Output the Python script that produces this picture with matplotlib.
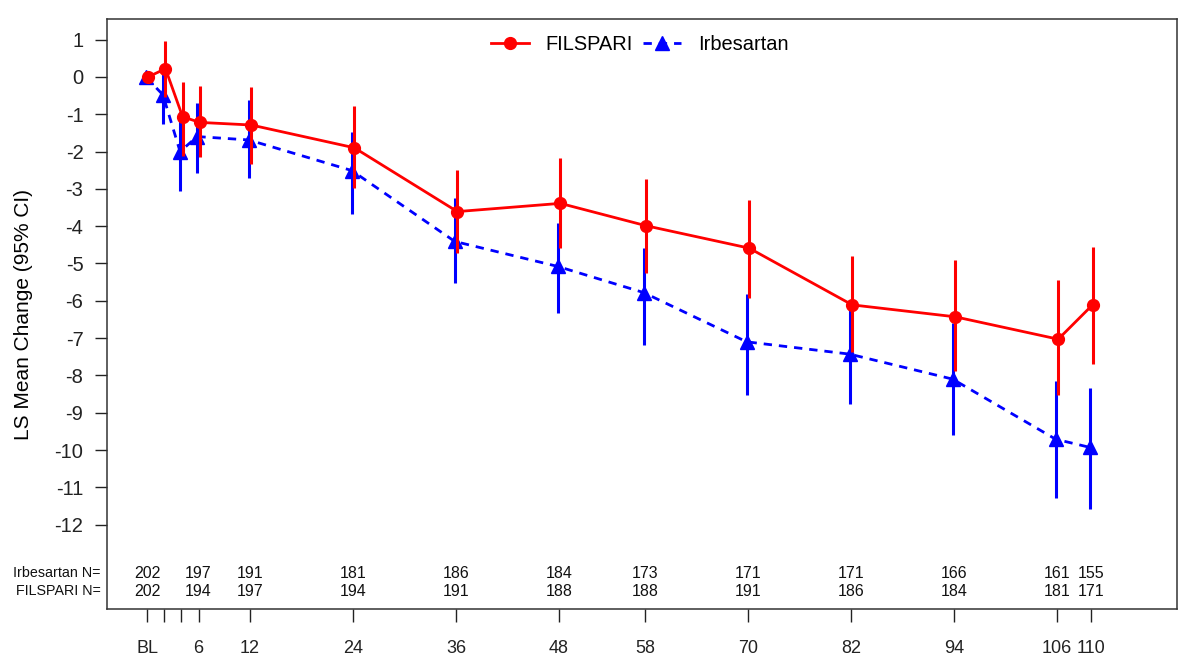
import matplotlib
matplotlib.use("Agg")
import matplotlib.pyplot as plt
import matplotlib.transforms as mtransforms
import numpy as np

plt.rcParams["font.family"] = ["Liberation Sans", "DejaVu Sans"]

# week of visit (BL = 0)
weeks = np.array([0, 2, 4, 6, 12, 24, 36, 48, 58, 70, 82, 94, 106, 110])
tick_labels = ["BL", "", "", "6", "12", "24", "36", "48", "58", "70", "82", "94", "106", "110"]

# LS mean change and 95% CI
fil_mean = [0.0, 0.22, -1.07, -1.22, -1.29, -1.90, -3.61, -3.39, -3.99, -4.59, -6.11, -6.43, -7.03, -6.11]
fil_lo = [np.nan, -0.53, -2.12, -2.15, -2.34, -2.99, -4.73, -4.59, -5.26, -5.93, -7.36, -7.87, -8.53, -7.69]
fil_hi = [np.nan, 0.97, -0.15, -0.24, -0.27, -0.78, -2.49, -2.18, -2.73, -3.30, -4.80, -4.92, -5.44, -4.55]

irb_mean = [0.0, -0.48, -2.00, -1.60, -1.69, -2.51, -4.41, -5.08, -5.78, -7.10, -7.43, -8.10, -9.71, -9.93]
irb_lo = [np.nan, -1.26, -3.05, -2.58, -2.72, -3.68, -5.53, -6.33, -7.18, -8.53, -8.77, -9.60, -11.29, -11.59]
irb_hi = [np.nan, 0.28, -0.95, -0.69, -0.63, -1.47, -3.24, -3.92, -4.59, -5.83, -6.09, -6.59, -8.14, -8.35]

# numbers at risk
n_weeks = [0, 6, 12, 24, 36, 48, 58, 70, 82, 94, 106, 110]
n_irb = [202, 197, 191, 181, 186, 184, 173, 171, 171, 166, 161, 155]
n_fil = [202, 194, 197, 194, 191, 188, 188, 191, 186, 184, 181, 171]

RED = "#FF0000"
BLUE = "#0000FF"

fig = plt.figure(figsize=(11.89, 6.61), dpi=100)
ax = fig.add_axes([0.09, 0.0787, 0.9, 0.8925])

xr = weeks + 0.15
xb = weeks - 0.15

ax.vlines(xb, irb_lo, irb_hi, color=BLUE, lw=2.2, zorder=2)
ax.plot(xb, irb_mean, color=BLUE, lw=2, ls=(0, (3, 2.5)), marker="^", ms=10,
        label="Irbesartan", zorder=3)
ax.vlines(xr, fil_lo, fil_hi, color=RED, lw=2.2, zorder=4)
ax.plot(xr, fil_mean, color=RED, lw=2, marker="o", ms=8.5, label="FILSPARI", zorder=5)

ax.set_xlim(-4.66, 120)
ax.set_ylim(-14.26, 1.55)
ax.set_xticks(weeks)
ax.set_xticklabels(tick_labels, fontsize=13)
ax.set_yticks(np.arange(1, -13, -1))
ax.set_yticklabels([str(v) for v in range(1, -13, -1)], fontsize=14.5)
ax.tick_params(axis="x", length=9, width=1, pad=13, colors="#222222")
ax.tick_params(axis="y", length=8.5, width=1, pad=8.5, colors="#222222")
ax.set_ylabel("LS Mean Change (95% CI)", fontsize=15)
ax.yaxis.set_label_coords(-0.069, 0.5)

for s in ax.spines.values():
    s.set_linewidth(1.1)
    s.set_color("#333333")

# N rows inside the plot region
trans = mtransforms.blended_transform_factory(ax.transAxes, ax.transData)
ax.text(-0.006, -13.3, "Irbesartan N=", transform=trans, ha="right", va="center",
        fontsize=10.3, color="#111111")
ax.text(-0.006, -13.78, "FILSPARI N=", transform=trans, ha="right", va="center",
        fontsize=10.3, color="#111111")
for w, a, b in zip(n_weeks, n_irb, n_fil):
    ax.text(w, -13.3, str(a), ha="center", va="center", fontsize=11.5, color="#111111")
    ax.text(w, -13.78, str(b), ha="center", va="center", fontsize=11.5, color="#111111")

handles, labels = ax.get_legend_handles_labels()
ax.legend(handles[::-1], labels[::-1], loc="center", bbox_to_anchor=(0.4977, 0.956),
          ncol=2, frameon=False, fontsize=14.4, handlelength=1.9, columnspacing=0.5,
          handletextpad=0.85)

fig.savefig("out.png", dpi=100, facecolor="white")
